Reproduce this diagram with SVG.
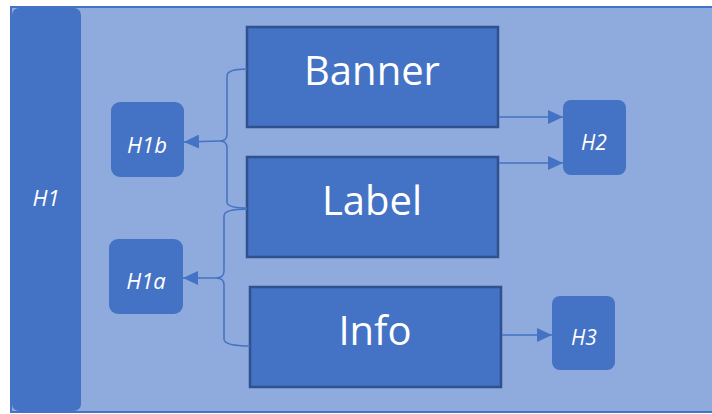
<svg xmlns="http://www.w3.org/2000/svg" width="712" height="414" viewBox="0 0 712 414">
<style>
.bg{fill:#8FAADC;stroke:#4472C4;stroke-width:2}
.box{fill:#4472C4;stroke:#2F528F;stroke-width:2.5}
.sm{fill:#4472C4}
.big{font-family:"Open Sans","Noto Sans",sans-serif;font-size:40px;fill:#fff;text-anchor:middle}
.lab{font-family:"Open Sans","Noto Sans",sans-serif;font-style:italic;fill:#fff;text-anchor:middle}
.con{fill:none;stroke:#4472C4;stroke-width:1.5}
</style>
<defs>
<marker id="ah" viewBox="0 0 15 14" refX="15" refY="7" markerWidth="15" markerHeight="14" markerUnits="userSpaceOnUse" orient="auto">
<path d="M0,0 L15,7 L0,14 Z" fill="#4472C4"/>
</marker>
</defs>
<rect class="bg" x="11" y="7" width="710" height="405"/>
<g id="H1">
<rect class="sm" x="12" y="8" width="69" height="403" rx="7"/>
<text class="lab" x="46" y="206" font-size="22">H1</text>
</g>
<g id="Banner">
<rect class="box" x="247" y="27" width="251" height="100"/>
<text class="big" x="372" y="85">Banner</text>
</g>
<g id="Label">
<rect class="box" x="247" y="157" width="251" height="100"/>
<text class="big" x="372" y="215">Label</text>
</g>
<g id="Info">
<rect class="box" x="250" y="287" width="251" height="100"/>
<text class="big" x="375" y="345">Info</text>
</g>
<g id="H1b">
<rect class="sm" x="111" y="102" width="73" height="75" rx="9"/>
<text class="lab" x="147" y="153" font-size="22">H1b</text>
</g>
<g id="H1a">
<rect class="sm" x="109" y="239" width="74" height="75" rx="9"/>
<text class="lab" x="146" y="289" font-size="22">H1a</text>
</g>
<g id="H2">
<rect class="sm" x="563" y="100" width="63" height="75" rx="8"/>
<text class="lab" x="594" y="150" font-size="21">H2</text>
</g>
<g id="H3">
<rect class="sm" x="552" y="296" width="63" height="74" rx="8"/>
<text class="lab" x="584" y="345" font-size="21">H3</text>
</g>
<g id="connectors">
<path class="con" d="M247,69 Q227,69 227,76 L227,134 Q227,141 220,141 Q227,141 227,148 L227,202 Q227,208 247,208"/>
<path class="con" d="M220,141 L184,142" stroke-width="2.5" marker-end="url(#ah)"/>
<path class="con" d="M247,209 Q224,209 224,216 L224,271 Q224,278 216,278 Q224,278 224,285 L224,339 Q224,346 250,346"/>
<path class="con" d="M216,278 L183,278" stroke-width="2.5" marker-end="url(#ah)"/>
<path class="con" d="M499,117 L563,117" marker-end="url(#ah)"/>
<path class="con" d="M499,163 L563,163" marker-end="url(#ah)"/>
<path class="con" d="M502,335 L552,335" marker-end="url(#ah)"/>
</g>
</svg>
